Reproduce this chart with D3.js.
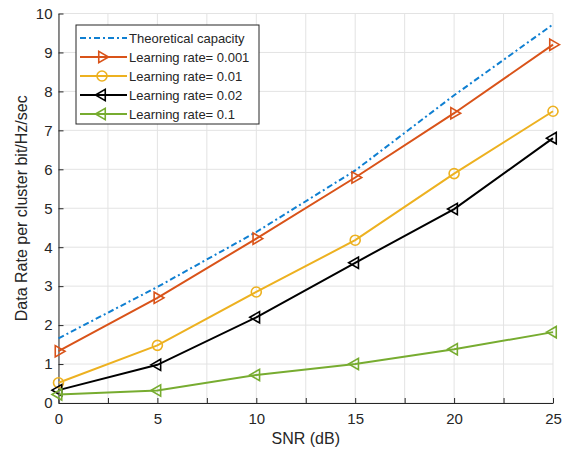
<!DOCTYPE html>
<html>
<head>
<meta charset="utf-8">
<script src="https://cdn.jsdelivr.net/npm/d3@7"></script>
<style>
  body { margin: 0; background: #fff; }
  text { font-family: "Liberation Sans", Arial, sans-serif; fill: #262626; }
</style>
</head>
<body>
<svg id="chart" width="565" height="454"></svg>
<script>
// SNR values (dB)
const snr = [0, 5, 10, 15, 20, 25];

// Data rate per cluster
const theoretical = [1.66, 2.98, 4.39, 5.97, 7.9, 9.72];
const lr0001 = [1.33, 2.7, 4.22, 5.79, 7.44, 9.2];
const lr001 = [0.52, 1.48, 2.85, 4.18, 5.89, 7.49];
const lr002 = [0.33, 0.98, 2.2, 3.6, 4.98, 6.8];
const lr01 = [0.22, 0.32, 0.72, 1.0, 1.38, 1.82];

const seriesNames = ["Theoretical capacity", "Learning rate= 0.001", "Learning rate= 0.01",
                     "Learning rate= 0.02", "Learning rate= 0.1"];

const xTicks = [0, 5, 10, 15, 20, 25];
const xMinor = d3.range(0, 25.01, 2.5);
const yTicks = d3.range(0, 11, 1);

const series = [
  { name: seriesNames[0], values: theoretical, color: "#0f7fd1", dash: "6,3,2,3", marker: null },
  { name: seriesNames[1], values: lr0001, color: "#d95319", dash: null, marker: "right" },
  { name: seriesNames[2], values: lr001, color: "#edb120", dash: null, marker: "circle" },
  { name: seriesNames[3], values: lr002, color: "#000000", dash: null, marker: "left" },
  { name: seriesNames[4], values: lr01, color: "#77ac30", dash: null, marker: "left" }
];

const svg = d3.select("#chart"),
      margin = { top: 13.5, right: 12, bottom: 51, left: 58.5 },
      width = +svg.attr("width") - margin.left - margin.right,
      height = +svg.attr("height") - margin.top - margin.bottom;

svg.append("rect").attr("width", 565).attr("height", 454).attr("fill", "#fff");

const g = svg.append("g").attr("transform", `translate(${margin.left},${margin.top})`);

const x = d3.scaleLinear().domain([0, 25]).range([0, width]);
const y = d3.scaleLinear().domain([0, 10]).range([height, 0]);

// Grid
g.append("g")
  .selectAll("line")
  .data(xMinor)
  .join("line")
  .attr("x1", d => x(d)).attr("x2", d => x(d))
  .attr("y1", 0).attr("y2", height)
  .attr("stroke", "#e3e3e3").attr("stroke-width", 1);

g.append("g")
  .selectAll("line")
  .data(yTicks)
  .join("line")
  .attr("x1", 0).attr("x2", width)
  .attr("y1", d => y(d)).attr("y2", d => y(d))
  .attr("stroke", "#e3e3e3").attr("stroke-width", 1);

// X Axis (ticks inside)
const xAxis = g.append("g")
  .attr("transform", `translate(0,${height})`)
  .call(d3.axisBottom(x).tickValues(xMinor).tickSizeInner(-5).tickSizeOuter(0)
        .tickFormat(d => xTicks.includes(d) ? d : ""));
xAxis.select(".domain").attr("stroke", "#262626");
xAxis.selectAll(".tick line").attr("stroke", "#262626");
xAxis.selectAll(".tick text")
  .attr("y", 10)
  .attr("dy", "0.71em")
  .style("font-size", "15px")
  .style("font-family", "Liberation Sans, Arial, sans-serif")
  .attr("fill", "#262626");

// Y Axis (ticks inside)
const yAxis = g.append("g")
  .call(d3.axisLeft(y).tickValues(yTicks).tickSizeInner(-5).tickSizeOuter(0));
yAxis.select(".domain").attr("stroke", "#262626");
yAxis.selectAll(".tick line").attr("stroke", "#262626");
yAxis.selectAll(".tick text")
  .attr("x", -6)
  .style("font-size", "15px")
  .style("font-family", "Liberation Sans, Arial, sans-serif")
  .attr("fill", "#262626");

// Axis labels
svg.append("text")
  .attr("x", margin.left + width / 2)
  .attr("y", 444)
  .attr("text-anchor", "middle")
  .style("font-size", "16px")
  .text("SNR (dB)");

svg.append("text")
  .attr("transform", `translate(27,${margin.top + height / 2}) rotate(-90)`)
  .attr("text-anchor", "middle")
  .style("font-size", "16px")
  .text("Data Rate per cluster bit/Hz/sec");

// Markers
const triangle = d3.symbol().type(d3.symbolTriangle).size(55);
function drawMarker(sel, type, color) {
  if (type === "circle") {
    sel.append("circle").attr("r", 5)
      .attr("fill", "none").attr("stroke", color).attr("stroke-width", 1.6);
  } else if (type) {
    sel.append("path").attr("d", triangle())
      .attr("transform", type === "right" ? "rotate(90)" : "rotate(-90)")
      .attr("fill", "none").attr("stroke", color).attr("stroke-width", 1.6);
  }
}

const line = d3.line().x(d => x(d[0])).y(d => y(d[1]));

series.forEach(s => {
  const pts = snr.map((v, i) => [v, s.values[i]]);
  g.append("path")
    .datum(pts)
    .attr("d", line)
    .attr("fill", "none")
    .attr("stroke", s.color)
    .attr("stroke-width", 2)
    .attr("stroke-dasharray", s.dash);
  if (s.marker) {
    g.selectAll(null)
      .data(pts)
      .join("g")
      .attr("transform", d => `translate(${x(d[0])},${y(d[1])})`)
      .each(function() { drawMarker(d3.select(this), s.marker, s.color); });
  }
});

// Legend
const legend = svg.append("g").attr("transform", "translate(76,25)");
legend.append("rect")
  .attr("width", 183).attr("height", 99)
  .attr("fill", "#fff").attr("stroke", "#262626").attr("stroke-width", 1);

series.forEach((s, i) => {
  const row = legend.append("g").attr("transform", `translate(0,${13 + i * 19})`);
  row.append("line")
    .attr("x1", 4).attr("x2", 51)
    .attr("stroke", s.color).attr("stroke-width", 2)
    .attr("stroke-dasharray", s.dash);
  const m = row.append("g").attr("transform", "translate(26,0)");
  drawMarker(m, s.marker, s.color);
  row.append("text")
    .attr("x", 53)
    .attr("dy", "0.35em")
    .style("font-size", "13px")
    .text(s.name);
});
</script>
</body>
</html>
